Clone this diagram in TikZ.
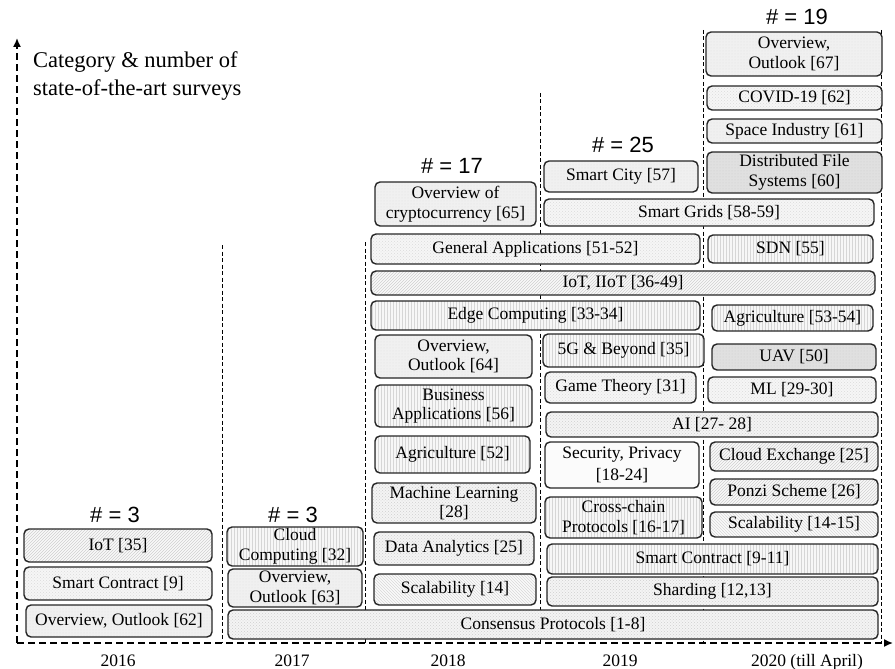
\documentclass[tikz,border=0pt]{standalone}
\usepackage{fontspec}
\setmainfont{Liberation Serif}
\newfontfamily\hdfont{Liberation Sans}
\usetikzlibrary{patterns,arrows.meta}

\tikzset{
  box/.style={draw=black!85, line width=1.4pt, rounded corners=5pt, inner sep=0pt,
    align=center, font=\fontsize{17.5}{19.5}\selectfont},
  greyfill/.style={preaction={fill=gray!12}, pattern=dots, pattern color=gray!25},
  darkfill/.style={preaction={fill=gray!24}, pattern=dots, pattern color=gray!40},
  dotfill/.style={preaction={fill=gray!7}, pattern=crosshatch dots, pattern color=gray!28},
  checkfill/.style={preaction={fill=gray!9}, pattern=crosshatch dots, pattern color=gray!38},
  hatchfill/.style={preaction={fill=gray!5}, pattern=north east lines, pattern color=gray!38},
  backfill/.style={preaction={fill=gray!4}, pattern=north west lines, pattern color=gray!30},
  stripefill/.style={preaction={fill=gray!6}, pattern=vertical lines, pattern color=gray!32},
  whitefill/.style={fill=gray!3},
  divider/.style={line width=0.9pt, dash pattern=on 4pt off 2.5pt},
  axis/.style={line width=1.5pt, dash pattern=on 7pt off 4pt},
  hdr/.style={anchor=base, font=\hdfont\fontsize{22}{24}\selectfont},
  yr/.style={anchor=base, font=\fontsize{17.5}{19}\selectfont}
}

% survey box from its corners: fill style, name, x1, y1, x2, y2, text
\newcommand\cell[7]{%
  \node[box, #1, minimum width={(#5-#3)*1pt}, minimum height={(#6-#4)*1pt}]
    (#2) at ({(#3+#5)/2},{(#4+#6)/2}) {#7};}

\begin{document}
\begin{tikzpicture}[x=1pt,y=-1pt]
\useasboundingbox (0,0) rectangle (895,669);

% axes
\coordinate (O) at (17,643);
\coordinate (ytip) at (17,38);
\coordinate (xtip) at (893,643);
\draw[axis, -{Latex[length=9pt,width=8pt]}] (O) -- (ytip);
\draw[axis, -{Latex[length=9pt,width=8pt]}] (O) -- (xtip);
\node[anchor=north west, inner sep=0pt, align=left,
  font=\fontsize{22.5}{28}\selectfont] (title) at (33,51)
  {Category \& number of\\state-of-the-art surveys};

% year dividers
\draw[divider] (222,245) -- (222,643);
\draw[divider] (365,242) -- (365,643);
\draw[divider] (540,93) -- (540,643);
\draw[divider] (703,30) -- (703,643);
\draw[divider] (881,30) -- (881,643);

% 2016
\node[hdr] (n16) at (115,522) {\# = 3};
\cell{hatchfill}{iot16}{24}{529}{212}{562}{IoT [35]}
\cell{dotfill}{sc16}{24}{567}{212}{600}{Smart Contract [9]}
\cell{greyfill}{ov16}{26}{605}{212}{637}{Overview, Outlook [62]}

% 2017
\node[hdr] (n17) at (293,522) {\# = 3};
\cell{stripefill}{cc17}{227}{527}{363}{566}{Cloud\\Computing [32]}
\cell{greyfill}{ov17}{228}{569}{362}{607}{Overview,\\Outlook [63]}
\cell{checkfill}{consensus}{228}{610}{878}{639}{Consensus Protocols [1-8]}

% 2018
\node[hdr] (n18) at (452,173) {\# = 17};
\cell{greyfill}{crypto}{375}{182}{536}{226}{Overview of\\cryptocurrency [65]}
\cell{dotfill}{genapp}{371}{234}{700}{264}{General Applications [51-52]}
\cell{hatchfill}{iiot}{371}{271}{875}{295}{IoT, IIoT [36-49]}
\cell{stripefill}{edge}{371}{301}{700}{330}{Edge Computing [33-34]}
\cell{greyfill}{ov18}{375}{335}{532}{378}{Overview,\\Outlook [64]}
\cell{stripefill}{biz18}{375}{385}{532}{427}{Business\\Applications [56]}
\cell{stripefill}{agri18}{375}{436}{530}{473}{Agriculture [52]}
\cell{checkfill}{ml18}{372}{483}{536}{523}{Machine Learning\\{}[28]}
\cell{checkfill}{data18}{374}{532}{534}{565}{Data Analytics [25]}
\cell{backfill}{scal18}{374}{574}{536}{605}{Scalability [14]}

% 2019
\node[hdr] (n19) at (623,153) {\# = 25};
\cell{greyfill}{city}{544}{161}{698}{192}{Smart City [57]}
\cell{dotfill}{grids}{544}{199}{874}{226}{Smart Grids [58-59]}
\cell{stripefill}{fiveg}{543}{334}{704}{367}{5G \& Beyond [35]}
\cell{dotfill}{game}{545}{372}{696}{403}{Game Theory [31]}
\cell{checkfill}{ai}{546}{412}{878}{437}{AI [27- 28]}
\cell{whitefill}{secpriv}{545}{442}{699}{488}{Security, Privacy\\[2pt]{}[18-24]}
\cell{stripefill}{cross}{545}{497}{702}{538}{Cross-chain\\Protocols [16-17]}
\cell{stripefill}{sc19}{547}{544}{878}{574}{Smart Contract [9-11]}
\cell{checkfill}{shard}{547}{577}{878}{606}{Sharding [12,13]}

% 2020
\node[hdr] (n20) at (797,25) {\# = 19};
\cell{greyfill}{ov20}{706}{32}{882}{76}{Overview,\\Outlook [67]}
\cell{dotfill}{covid}{707}{86}{882}{110}{COVID-19 [62]}
\cell{greyfill}{space}{707}{119}{882}{143}{Space Industry [61]}
\cell{darkfill}{dfs}{707}{152}{882}{193}{Distributed File\\Systems [60]}
\cell{stripefill}{sdn}{708}{235}{873}{263}{SDN [55]}
\cell{stripefill}{agri20}{712}{305}{873}{331}{Agriculture [53-54]}
\cell{darkfill}{uav}{712}{344}{876}{370}{UAV [50]}
\cell{dotfill}{ml20}{708}{377}{876}{403}{ML [29-30]}
\cell{hatchfill}{cloudx}{710}{442}{878}{471}{Cloud Exchange [25]}
\cell{hatchfill}{ponzi}{710}{479}{878}{505}{Ponzi Scheme [26]}
\cell{backfill}{scal20}{710}{512}{878}{537}{Scalability [14-15]}

% years
\node[yr] (y16) at (118,666) {2016};
\node[yr] (y17) at (292,666) {2017};
\node[yr] (y18) at (448,666) {2018};
\node[yr] (y19) at (620,666) {2019};
\node[yr] (y20) at (807,666) {2020 (till April)};
\end{tikzpicture}
\end{document}
